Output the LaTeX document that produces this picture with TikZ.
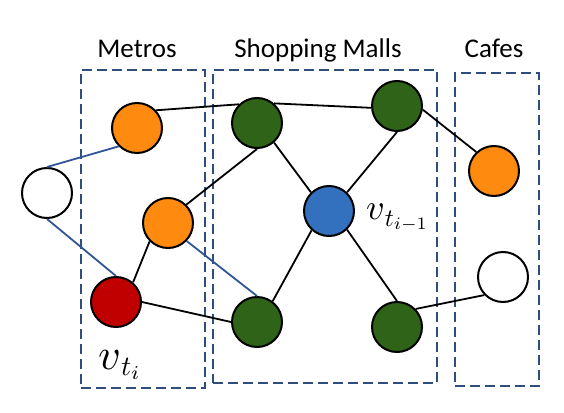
\documentclass[tikz,border=0pt]{standalone}
\usepackage{fontspec}
\setmainfont{Carlito}
\definecolor{vorange}{HTML}{FF8A10}
\definecolor{vgreen}{HTML}{2E6318}
\definecolor{vred}{HTML}{C00000}
\definecolor{vblue}{HTML}{3370BE}
\definecolor{edgeblue}{HTML}{2F5597}
\definecolor{boxblue}{HTML}{2F4E7D}
\begin{document}
\begin{tikzpicture}[x=1pt,y=-1pt,
  vert/.style={circle,draw=black,line width=2pt,minimum size=50pt,inner sep=0pt},
  kedge/.style={line width=1.8pt,black},
  bedge/.style={line width=1.8pt,edgeblue},
  group/.style={draw=boxblue,line width=2pt,dash pattern=on 10pt off 5pt,inner sep=0pt},
  title/.style={font=\fontsize{27}{32}\selectfont,anchor=base,inner sep=0pt},
  mlabel/.style={anchor=base west,inner sep=0pt}]
\useasboundingbox (0,0) rectangle (564,412);
% groups
\node[group,minimum width=124pt,minimum height=318pt] (metros) at (143,229) {};
\node[group,minimum width=224pt,minimum height=313pt] (malls) at (325,226.5) {};
\node[group,minimum width=84pt,minimum height=313pt] (cafes) at (497,229.5) {};
% titles
\node[title] (tmetros) at (137,57) {Metros};
\node[title] (tmalls) at (318,57) {Shopping Malls};
\node[title] (tcafes) at (494,57) {Cafes};
% vertices
\node[vert,fill=white] (wl) at (47,193) {};
\node[vert,fill=vorange] (otop) at (137,128) {};
\node[vert,fill=vorange] (omid) at (168,223) {};
\node[vert,fill=vred] (red) at (116,302) {};
\node[vert,fill=vgreen] (gtl) at (257,123) {};
\node[vert,fill=vgreen] (gbl) at (257,322) {};
\node[vert,fill=vgreen] (gtr) at (397,106) {};
\node[vert,fill=vblue] (blue) at (329,211) {};
\node[vert,fill=vgreen] (gbr) at (397,327) {};
\node[vert,fill=vorange] (oright) at (494,171) {};
\node[vert,fill=white] (wr) at (503,277) {};
% edges
\draw[bedge] (wl.north) -- (otop.225);
\draw[bedge] (wl.south) -- (red.north);
\draw[bedge] (omid.-44) -- (gbl.north);
\draw[kedge] (otop.43) -- (gtl.134);
\draw[kedge] (gtl.49) -- (gtr.184);
\draw[kedge] (omid.45) -- (gtl.south);
\draw[kedge] (omid.225) -- (red.49);
\draw[kedge] (red.east) -- (gbl.west);
\draw[kedge] (gtl.-49) -- (blue.134);
\draw[kedge] (gtr.south) -- (blue.46);
\draw[kedge] (gtr.-8) -- (oright.133);
\draw[kedge] (blue.228) -- (gbl.53);
\draw[kedge] (blue.-46) -- (gbr.north);
\draw[kedge] (gbr.44) -- (wr.224);
% labels
\node[mlabel] (lvti) at (98,369) {\scalebox{4.4}{$v$}\raisebox{-6pt}{\scalebox{2.8}{$t_i$}}};
\node[mlabel] (lvtim) at (366,219) {\scalebox{3.6}{$v$}\raisebox{-7pt}{\scalebox{2.5}{$t_{i-1}$}}};
\end{tikzpicture}
\end{document}
